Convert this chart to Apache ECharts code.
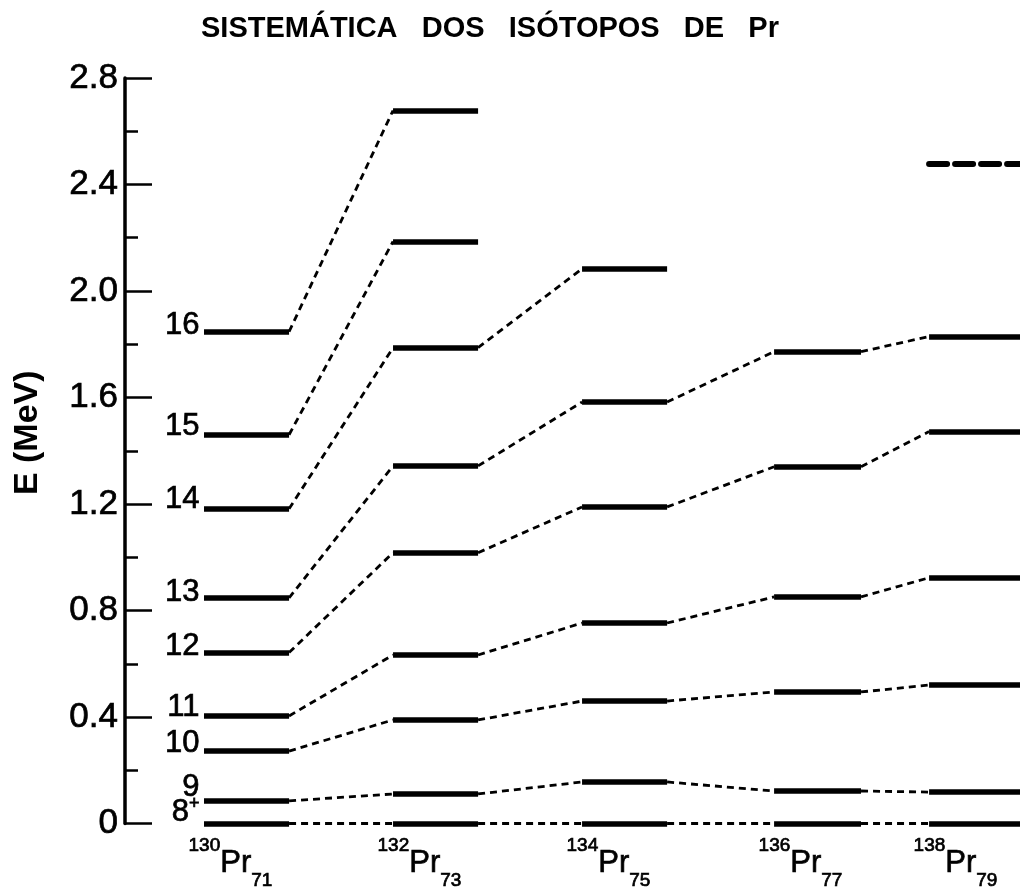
<!DOCTYPE html>
<html>
<head>
<meta charset="utf-8">
<script src="https://cdn.jsdelivr.net/npm/echarts@6/dist/echarts.min.js"></script>
<style>
  html, body { margin: 0; padding: 0; background: #fff; }
  #chart { width: 1020px; height: 894px; }
</style>
</head>
<body>
<div id="chart"></div>
<script>
// Praseodymium isotopes: mass number A and neutron number N
const massNumbers = [130, 132, 134, 136, 138];
const neutronNumbers = [71, 73, 75, 77, 79];

// Spin sequences, labelled as in 130Pr
const spins = ['8+', '9', '10', '11', '12', '13', '14', '15', '16'];

// Level energies (MeV) along each sequence, one value per isotope
const level8 = [0, 0, 0, 0, 0];
const level9 = [0.085, 0.111, 0.156, 0.122, 0.118];
const level10 = [0.272, 0.389, 0.460, 0.494, 0.520];
const level11 = [0.404, 0.633, 0.753, 0.851, 0.923];
const level12 = [0.642, 1.017, 1.189, 1.340, 1.472];
const level13 = [0.847, 1.343, 1.583, 1.772, 1.829];
const level14 = [1.182, 1.787, 2.083, null, null];
const level15 = [1.460, 2.186, null, null, null];
const level16 = [1.847, 2.678, null, null, null];
// Tentative level (drawn dashed)
const tentativeLevel = [null, null, null, null, 2.477];

// Energy axis tick values
const energyTicks = [0, 0.4, 0.8, 1.2, 1.6, 2.0, 2.4, 2.8];

const sequences = [level8, level9, level10, level11, level12, level13, level14, level15, level16];

// ---- layout (x in units of column spacing) ----
const COLUMN_SLOT = [0, 1, 2, 3.016, 3.836];
const BAR_LEN = [0.45, 0.45, 0.45, 0.46, 0.52];
const X_MIN = -0.418, X_MAX = 4.317;
const LABEL_RAISE = [-11, -13, -8, -8, -6, -6, -9, -8, -6];
const FONT = '"Liberation Sans", Arial, sans-serif';
const INK = { color: '#000', textBorderColor: '#000', textBorderWidth: 0.7 };

const bars = [];
const links = [];
sequences.forEach(function (seq) {
  seq.forEach(function (e, c) {
    if (e == null) return;
    const x0 = COLUMN_SLOT[c], x1 = COLUMN_SLOT[c] + BAR_LEN[c];
    bars.push({ coords: [[x0, e], [x1, e]] });
    const n = c + 1;
    if (n < seq.length && seq[n] != null) {
      links.push({ coords: [[x1, e], [COLUMN_SLOT[n], seq[n]]] });
    }
  });
});
const tentativeBars = [];
tentativeLevel.forEach(function (e, c) {
  if (e == null) return;
  tentativeBars.push({ coords: [[COLUMN_SLOT[c], e], [COLUMN_SLOT[c] + BAR_LEN[c], e]] });
});

const spinLabels = sequences.map(function (seq, r) {
  return {
    name: spins[r],
    value: [COLUMN_SLOT[0], seq[0]],
    label: { offset: [0, LABEL_RAISE[r]] }
  };
});

const isotopeLabels = massNumbers.map(function (a, c) {
  return { name: String(a), value: [COLUMN_SLOT[c], 0], n: neutronNumbers[c] };
});

function ink(extra) { return Object.assign({ fontFamily: FONT }, INK, extra); }

const chart = echarts.init(document.getElementById('chart'));
chart.setOption({
  animation: false,
  backgroundColor: '#fff',
  title: {
    text: 'SISTEMÁTICA   DOS   ISÓTOPOS   DE   Pr',
    left: 196,
    top: 9,
    textStyle: { fontFamily: FONT, fontSize: 29, fontWeight: 'bold', color: '#000' }
  },
  grid: { left: 125, right: 0, top: 78, bottom: 70.5, containLabel: false, outerBoundsMode: 'none' },
  xAxis: {
    type: 'value', min: X_MIN, max: X_MAX, show: false
  },
  yAxis: {
    type: 'value',
    min: energyTicks[0],
    max: energyTicks[energyTicks.length - 1],
    interval: energyTicks[1] - energyTicks[0],
    name: 'E (MeV)',
    nameLocation: 'middle',
    nameGap: 80,
    nameTextStyle: { fontFamily: FONT, fontSize: 34, fontWeight: 'bold', color: '#000', padding: [0, 0, 0, 36] },
    axisLine: { show: true, onZero: false, lineStyle: { color: '#000', width: 3.5 } },
    axisTick: { show: true, inside: true, length: 27, lineStyle: { color: '#000', width: 2.5 } },
    minorTick: { show: true, splitNumber: 2, length: 13, lineStyle: { color: '#000', width: 2.5 } },
    splitLine: { show: false },
    axisLabel: Object.assign(ink({ fontSize: 35, margin: 7 }), {
      formatter: function (v) { return v === 0 ? '0' : v.toFixed(1); }
    })
  },
  series: [
    {
      type: 'lines', coordinateSystem: 'cartesian2d', clip: false, z: 3,
      lineStyle: { color: '#000', width: 2.8, type: [7, 5], opacity: 1 },
      data: links
    },
    {
      type: 'lines', coordinateSystem: 'cartesian2d', clip: false, z: 4,
      lineStyle: { color: '#000', width: 5.5, type: 'solid', opacity: 1 },
      data: bars
    },
    {
      type: 'lines', coordinateSystem: 'cartesian2d', clip: false, z: 4,
      lineStyle: { color: '#000', width: 6, type: [18, 8], cap: 'round', opacity: 1 },
      data: tentativeBars
    },
    {
      type: 'scatter', clip: false, symbolSize: 1, z: 5,
      itemStyle: { color: 'rgba(0,0,0,0)', opacity: 1 },
      label: {
        show: true, position: 'left', distance: 4, opacity: 1,
        fontFamily: FONT, fontSize: 31, color: '#000',
        formatter: function (p) {
          return p.name === '8+' ? '{b|8}{s|+}' : '{b|' + p.name + '}';
        },
        rich: {
          b: ink({ fontSize: 31, lineHeight: 34 }),
          s: ink({ fontSize: 18, lineHeight: 22, verticalAlign: 'top' })
        }
      },
      data: spinLabels
    },
    {
      type: 'scatter', clip: false, symbolSize: 1, z: 5,
      itemStyle: { color: 'rgba(0,0,0,0)', opacity: 1 },
      label: {
        show: true, position: [-15, 13], align: 'left', verticalAlign: 'top', opacity: 1,
        formatter: function (p) {
          return '{m|' + p.name + '}{p|Pr}{n|' + p.data.n + '}';
        },
        rich: {
          m: ink({ fontSize: 19, lineHeight: 22, verticalAlign: 'top' }),
          p: ink({ fontSize: 31, lineHeight: 54, verticalAlign: 'middle' }),
          n: ink({ fontSize: 19, lineHeight: 22, verticalAlign: 'bottom' })
        }
      },
      data: isotopeLabels
    }
  ]
});
</script>
</body>
</html>
